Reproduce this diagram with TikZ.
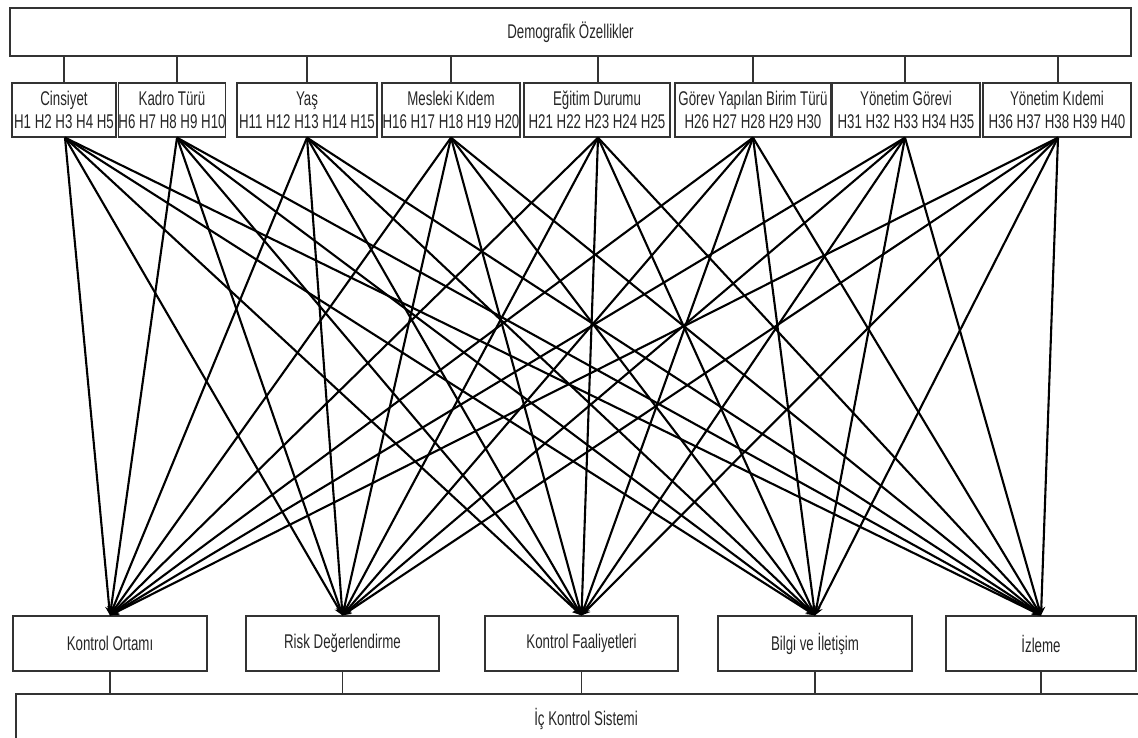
\documentclass[tikz,border=0pt]{standalone}
\usepackage{fontspec}
\setmainfont{Liberation Sans}[FakeStretch=0.67]
\usetikzlibrary{arrows.meta}
\begin{document}
\begin{tikzpicture}[x=0.02cm,y=-0.02cm,
  box/.style={draw=black!80,line width=0.75pt,rectangle,inner sep=0pt,
    align=center,text=black!85,font=\fontsize{11.3}{13.2}\selectfont},
  link/.style={draw=black!80,line width=0.75pt},
  rel/.style={draw=black,line width=1.2pt,-{Stealth[length=5pt,width=4.5pt]}}]
\clip (0,0) rectangle (1138,737);
\useasboundingbox (0,0) rectangle (1138,737);
% top level
\node[box,minimum width=1121*0.02cm,minimum height=48*0.02cm] (top) at (570.5,32) {Demografik Özellikler};
% demographic variables
\begin{scope}[every node/.append style={box,minimum height=54*0.02cm}]
\node[minimum width=104*0.02cm] (c1) at (64,110)   {Cinsiyet\\H1 H2 H3 H4 H5};
\node[minimum width=100*0.02cm] (c2) at (172,110)  {Kadro Türü\\H6 H7 H8 H9 H10};
\node[minimum width=140*0.02cm] (c3) at (307,110)  {Yaş\\H11 H12 H13 H14 H15};
\node[minimum width=138*0.02cm] (c4) at (451,110)  {Mesleki Kıdem\\H16 H17 H18 H19 H20};
\node[minimum width=146*0.02cm] (c5) at (597,110)  {Eğitim Durumu\\H21 H22 H23 H24 H25};
\node[minimum width=156*0.02cm] (c6) at (753,110)  {Görev Yapılan Birim Türü\\H26 H27 H28 H29 H30};
\node[minimum width=148*0.02cm] (c7) at (906,110)  {Yönetim Görevi\\H31 H32 H33 H34 H35};
\node[minimum width=148*0.02cm] (c8) at (1057,110) {Yönetim Kıdemi\\H36 H37 H38 H39 H40};
\end{scope}
% internal control components
\begin{scope}[every node/.append style={box,minimum height=55*0.02cm}]
\node[minimum width=194*0.02cm] (k1) at (110,643.5)   {Kontrol Ortamı};
\node[minimum width=193*0.02cm] (k2) at (342.5,643.5) {Risk Değerlendirme};
\node[minimum width=193*0.02cm] (k3) at (581.5,643.5) {Kontrol Faaliyetleri};
\node[minimum width=194*0.02cm] (k4) at (815,643.5)   {Bilgi ve İletişim};
\node[minimum width=190*0.02cm] (k5) at (1041,643.5)  {İzleme};
\end{scope}
\node[box,minimum width=1140*0.02cm,minimum height=50*0.02cm] (ics) at (586,719) {İç Kontrol Sistemi};
% tree links
\foreach \c/\dx in {c1/0,c2/5,c3/0,c4/0,c5/1,c6/0,c7/-1,c8/1}
  \draw[link] ([xshift=\dx*0.02cm]\c.north |- top.south) -- ([xshift=\dx*0.02cm]\c.north);
\foreach \k in {k1,k2,k3,k4,k5}
  \draw[link] (\k.south) -- (\k.south |- ics.north);
% hypothesis links: every variable to every component
\foreach \c/\dx in {c1/1,c2/5,c3/0,c4/0,c5/1,c6/0,c7/-1,c8/1}
  \foreach \k in {k1,k2,k3,k4,k5}
    \draw[rel] ([xshift=\dx*0.02cm]\c.south) -- (\k.north);
\end{tikzpicture}
\end{document}
